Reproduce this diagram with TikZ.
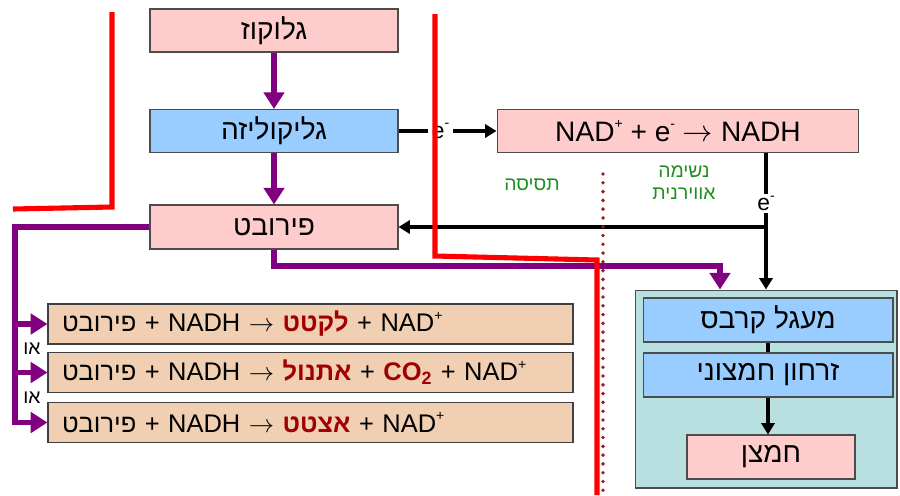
\documentclass[tikz,border=0pt]{standalone}
\usepackage{fontspec}
\setmainfont{Liberation Sans}
\newfontfamily\hebfont[Script=Hebrew]{Liberation Sans}
\TeXXeTstate=1
\newcommand{\hb}[1]{{\hebfont\beginR #1\endR}}
\newcommand{\chg}[1]{\raisebox{0.45em}{\fontsize{8}{8}\selectfont #1}}
\usetikzlibrary{arrows.meta}
\definecolor{boxpink}{HTML}{FFCCCC}
\definecolor{boxblue}{HTML}{99CCFF}
\definecolor{rxnfill}{HTML}{F1CFB3}
\definecolor{mitofill}{HTML}{B9E0E0}
\definecolor{purp}{HTML}{800080}
\definecolor{prodred}{HTML}{A00000}
\definecolor{labgreen}{HTML}{1E9020}
\definecolor{dotred}{HTML}{9A1E1E}

\begin{document}
\begin{tikzpicture}[x=0.02cm,y=-0.02cm,
    box/.style={draw=black!70, line width=0.6pt, inner sep=0pt, minimum height=0.86cm, font=\fontsize{16}{19}\selectfont},
    rxn/.style={draw=black!75, line width=0.7pt, fill=rxnfill, minimum height=0.8cm, text width=9.94cm, inner xsep=0.28cm, inner ysep=0pt, align=left, font=\fontsize{14.5}{17}\selectfont},
    purpline/.style={draw=purp, line width=3.4pt},
    purparrow/.style={purpline, -{Triangle[width=11.5pt,length=9.5pt]}},
    blkline/.style={draw=black, line width=2.4pt},
    blkarrow/.style={blkline, -{Triangle[width=7.5pt,length=6.5pt]}},
    elab/.style={fill=white, inner xsep=2pt, inner ysep=1pt, font=\fontsize{13}{15}\selectfont},
    greenlab/.style={text=labgreen, align=center, font=\fontsize{11}{12.5}\selectfont},
    orlab/.style={font=\fontsize{11}{13}\selectfont},
    redline/.style={draw=red, line width=2.9pt},
    dotline/.style={draw=dotred, line width=2.2pt, line cap=round, dash pattern=on 0pt off 5pt}]
  \useasboundingbox (0,0) rectangle (900,495);

  \node[box, fill=boxpink, minimum width=4.96cm] (glucose) at (274,30.5) {\hb{גלוקוז}};
  \node[box, fill=boxblue, minimum width=4.96cm] (glyco) at (274,131) {\hb{גליקוליזה}};
  \node[box, fill=boxpink, minimum width=4.96cm, minimum height=0.88cm] (pyr) at (274,227) {\hb{פירובט}};
  \node[box, fill=boxpink, minimum width=7.24cm] (nad) at (678,131) {NAD\chg{+} + e\chg{-} $\rightarrow$ NADH};

  \node[box, fill=mitofill, minimum width=5.24cm, minimum height=3.96cm] (mito) at (766,389) {};
  \node[box, fill=boxblue, minimum width=5cm, minimum height=0.88cm] (krebs) at (768,320) {\hb{מעגל קרבס}};
  \node[box, fill=boxblue, minimum width=5cm, minimum height=0.88cm] (oxphos) at (768,375) {\hb{זרחון חמצוני}};
  \node[box, fill=boxpink, minimum width=3.36cm, minimum height=0.88cm] (oxygen) at (771,457) {\hb{חמצן}};

  \node[rxn] (lact) at (310.5,324) {\hb{פירובט} + NADH $\rightarrow$ \textcolor{prodred}{\bfseries\hb{לקטט}} + NAD\chg{+}};
  \node[rxn] (eth) at (310.5,372.5) {\hb{פירובט} + NADH $\rightarrow$ \textcolor{prodred}{\bfseries\hb{אתנול}} + \textcolor{prodred}{\bfseries CO\textsubscript{2}} + NAD\chg{+}};
  \node[rxn] (acet) at (310.5,422.5) {\hb{פירובט} + NADH $\rightarrow$ \textcolor{prodred}{\bfseries\hb{אצטט}} + NAD\chg{+}};

  \node[greenlab] (ferm) at (532,185) {\hb{תסיסה}};
  \node[greenlab] (aero) at (684,183) {\hb{נשימה}\\\hb{אווירנית}};
  \node[orlab] (or1) at (32,349) {\hb{או}};
  \node[orlab] (or2) at (32,398) {\hb{או}};

  \draw[purparrow] (glucose) -- (glyco);
  \draw[purparrow] (glyco) -- (pyr);
  \coordinate (trunk) at (15,227);
  \draw[purparrow] (pyr.west) -- (trunk) |- (acet.west);
  \draw[purparrow] (trunk |- lact.west) -- (lact.west);
  \draw[purparrow] (trunk |- eth.west) -- (eth.west);
  \draw[purparrow] (pyr.south) -- ++(0,16) -| ([xshift=-0.92cm]mito.north);

  \draw[blkarrow] (glyco.east) -- node[elab, pos=0.43] {e\chg{-}} (nad.west);
  \coordinate (nadout) at (nad.south -| mito.north);
  \draw[blkarrow] (nadout) -- node[elab, pos=0.37] {e\chg{-}} (mito.north);
  \draw[blkarrow] (mito.north |- pyr.east) -- (pyr.east);
  \draw[blkline] (krebs.south) -- (oxphos.north);
  \draw[blkarrow] (oxphos.south) -- (oxphos.south |- oxygen.north);

  \draw[dotline] (603,174) -- (603,495);
  \draw[redline] (112,12) -- (112,207) -- (13,209);
  \draw[redline] (435,14) -- (435,256) -- (597,260) -- (597,495);
\end{tikzpicture}
\end{document}
